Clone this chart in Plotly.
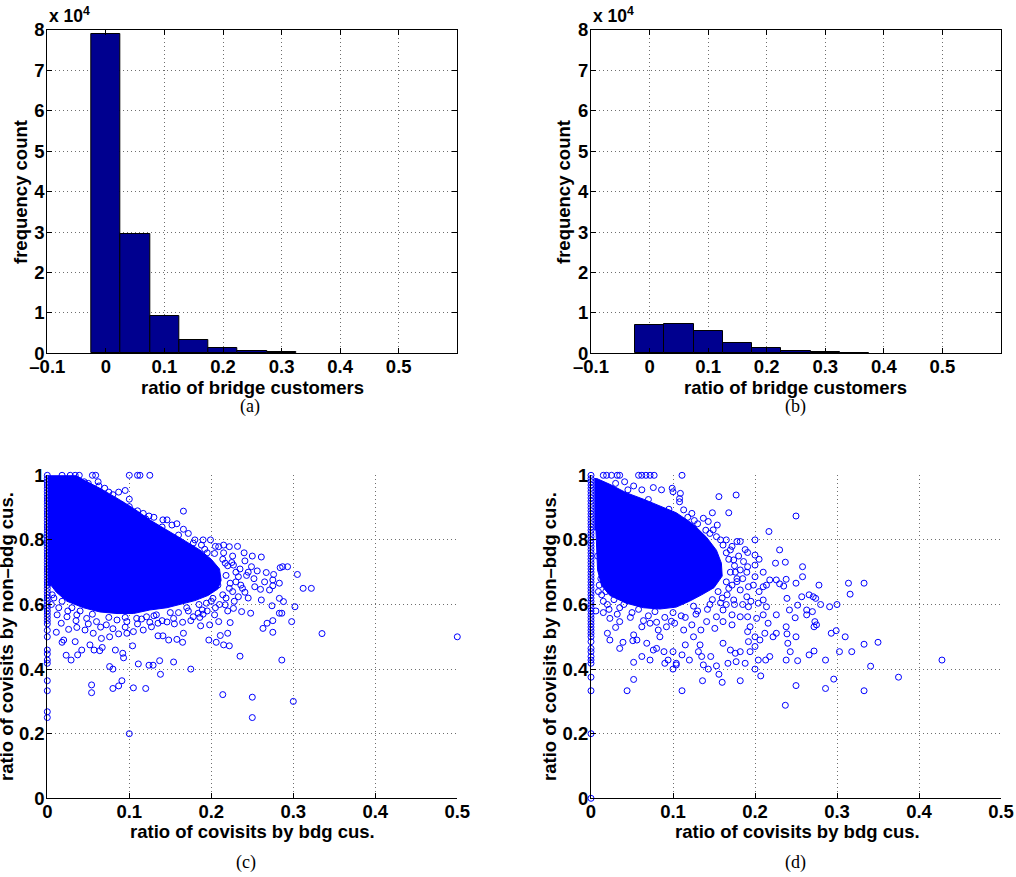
import plotly.graph_objects as go

W, H = 1016, 877

# histogram data (bin centres, counts)
bin_centers_a = [0, 0.05, 0.1, 0.15, 0.2, 0.25, 0.3]
counts_a = [79100, 29500, 9300, 3300, 1400, 580, 200]
bin_centers_b = [0, 0.05, 0.1, 0.15, 0.2, 0.25, 0.3, 0.35]
counts_b = [7000, 7200, 5600, 2550, 1250, 650, 300, 110]

hist_xticks = [-0.1, 0, 0.1, 0.2, 0.3, 0.4, 0.5]
hist_xlabels = ["\u20130.1", "0", "0.1", "0.2", "0.3", "0.4", "0.5"]
hist_yticks = [0, 10000, 20000, 30000, 40000, 50000, 60000, 70000, 80000]
hist_ylabels = ["0", "1", "2", "3", "4", "5", "6", "7", "8"]

sc_xticks = [0, 0.1, 0.2, 0.3, 0.4, 0.5]
sc_xlabels = ["0", "0.1", "0.2", "0.3", "0.4", "0.5"]
sc_yticks = [0, 0.2, 0.4, 0.6, 0.8, 1.0]
sc_ylabels = ["0", "0.2", "0.4", "0.6", "0.8", "1"]

# (c) saturated core of the point cloud (outline)
c_core_x = [0, 0.035, 0.044, 0.064, 0.085, 0.105, 0.125, 0.146, 0.166, 0.186,
            0.2, 0.21, 0.212, 0.208, 0.196, 0.18, 0.163, 0.146, 0.125, 0.105,
            0.085, 0.064, 0.044, 0.024, 0.011, 0.005, 0]
c_core_y = [1.0, 1.0, 0.986, 0.96, 0.929, 0.898, 0.862, 0.831, 0.8, 0.769,
            0.74, 0.71, 0.675, 0.648, 0.628, 0.612, 0.6, 0.59, 0.583, 0.572,
            0.572, 0.577, 0.59, 0.61, 0.638, 0.658, 0.658]
# points lying on x = 0
c_col_y = [1.0, 0.99, 0.98, 0.97, 0.96, 0.95, 0.94, 0.93, 0.92, 0.91, 0.9,
           0.89, 0.88, 0.87, 0.86, 0.85, 0.84, 0.83, 0.82, 0.81, 0.8, 0.79,
           0.78, 0.77, 0.76, 0.75, 0.74, 0.73, 0.72, 0.71, 0.7, 0.69, 0.68,
           0.67, 0.66, 0.65, 0.64, 0.63, 0.62, 0.61, 0.6, 0.59, 0.58, 0.57,
           0.56, 0.55, 0.54, 0.52, 0.5, 0.459, 0.447, 0.428, 0.418, 0.364,
           0.333, 0.268, 0.25]
c_points = [
    (0.5, 0.5), (0.335, 0.51), (0.3, 0.3), (0.25, 0.25), (0.25, 0.313),
    (0.214, 0.321), (0.286, 0.428), (0.235, 0.44), (0.1, 0.2), (0.105, 0.342),
    (0.12, 0.34), (0.08, 0.34), (0.087, 0.348), (0.091, 0.364), (0.054, 0.351),
    (0.054, 0.327), (0.138, 0.384), (0.175, 0.4), (0.154, 0.422), (0.137, 0.426),
    (0.129, 0.412), (0.124, 0.412), (0.111, 0.416), (0.076, 0.408), (0.08, 0.4),
    (0.093, 0.435), (0.092, 0.449), (0.104, 0.472), (0.083, 0.459), (0.064, 0.457),
    (0.067, 0.467), (0.057, 0.459), (0.052, 0.475), (0.042, 0.459), (0.037, 0.444),
    (0.029, 0.428), (0.023, 0.443), (0.034, 0.485), (0.018, 0.483), (0.02, 0.49),
    (0.011, 0.514), (0.197, 0.49), (0.206, 0.483), (0.215, 0.475), (0.222, 0.472),
    (0.211, 0.504), (0.22, 0.511), (0.165, 0.483), (0.158, 0.492), (0.148, 0.49),
    (0.141, 0.503), (0.135, 0.503), (0.166, 0.511), (0.198, 0.537), (0.187, 0.534),
    (0.209, 0.547), (0.223, 0.544), (0.248, 0.573), (0.237, 0.578), (0.263, 0.526),
    (0.268, 0.542), (0.275, 0.514), (0.275, 0.55), (0.283, 0.573), (0.286, 0.573),
    (0.298, 0.547), (0.302, 0.593), (0.274, 0.596), (0.261, 0.614), (0.283, 0.619),
    (0.288, 0.609), (0.312, 0.65), (0.322, 0.65), (0.305, 0.693), (0.293, 0.717),
    (0.287, 0.717), (0.284, 0.714), (0.276, 0.693), (0.275, 0.676), (0.283, 0.666),
    (0.275, 0.658), (0.271, 0.645), (0.26, 0.647), (0.261, 0.747), (0.25, 0.75),
    (0.241, 0.735), (0.249, 0.717), (0.256, 0.704), (0.267, 0.699), (0.253, 0.655),
    (0.241, 0.638), (0.233, 0.624), (0.222, 0.779), (0.215, 0.784), (0.209, 0.779),
    (0.199, 0.8), (0.166, 0.889), (0.152, 0.846), (0.166, 0.833), (0.146, 0.862),
    (0.141, 0.862), (0.124, 0.874), (0.117, 0.882), (0.11, 0.89), (0.1, 0.926),
    (0.1, 0.903), (0.095, 0.953), (0.087, 0.948), (0.075, 0.948), (0.063, 0.967),
    (0.062, 0.98), (0.059, 1.0), (0.055, 1.0), (0.1, 1.0), (0.11, 1.0),
    (0.113, 1.0), (0.125, 1.0), (0.039, 1.0), (0.034, 1.0), (0.045, 0.98),
    (0.05, 0.975), (0.184, 0.573), (0.178, 0.562), (0.186, 0.56), (0.189, 0.583),
    (0.204, 0.568), (0.194, 0.604), (0.202, 0.619), (0.217, 0.599), (0.227, 0.588),
    (0.223, 0.666), (0.233, 0.686), (0.227, 0.722), (0.217, 0.728), (0.204, 0.758),
    (0.192, 0.771), (0.188, 0.784), (0.176, 0.774), (0.154, 0.557), (0.146, 0.546),
    (0.135, 0.542), (0.127, 0.531), (0.117, 0.521), (0.105, 0.516), (0.097, 0.511),
    (0.087, 0.509), (0.076, 0.5), (0.066, 0.495), (0.056, 0.511), (0.046, 0.521),
    (0.036, 0.529), (0.026, 0.523), (0.017, 0.542), (0.012, 0.568), (0.024, 0.562),
    (0.036, 0.568), (0.048, 0.557), (0.06, 0.547), (0.072, 0.537), (0.085, 0.552),
    (0.097, 0.547), (0.109, 0.557), (0.121, 0.562), (0.133, 0.568), (0.23, 0.7),
    (0.236, 0.66), (0.243, 0.69), (0.226, 0.64), (0.218, 0.62), (0.21, 0.6),
    (0.195, 0.58), (0.172, 0.58), (0.16, 0.575), (0.208, 0.66), (0.214, 0.74),
    (0.226, 0.75), (0.235, 0.71), (0.18, 0.8), (0.172, 0.82), (0.158, 0.85),
    (0.13, 0.87), (0.08, 0.94), (0.07, 0.96), (0.028, 1.0), (0.018, 1.0),
    (0.218, 0.69), (0.222, 0.65), (0.214, 0.63), (0.2, 0.61), (0.185, 0.6),
    (0.17, 0.59), (0.15, 0.575), (0.13, 0.565), (0.115, 0.555), (0.095, 0.56),
    (0.075, 0.56), (0.055, 0.57), (0.04, 0.58), (0.03, 0.59), (0.018, 0.61),
    (0.008, 0.62), (0.005, 0.6), (0.205, 0.7), (0.22, 0.72), (0.195, 0.76),
    (0.178, 0.79), (0.16, 0.815), (0.14, 0.84), (0.12, 0.865), (0.09, 0.91),
    (0.215, 0.76), (0.225, 0.73), (0.23, 0.67), (0.238, 0.65), (0.245, 0.62),
    (0.228, 0.61), (0.22, 0.58), (0.205, 0.59), (0.19, 0.57), (0.175, 0.55),
    (0.165, 0.545), (0.155, 0.54), (0.14, 0.55), (0.125, 0.545), (0.11, 0.54),
    (0.095, 0.53), (0.08, 0.525), (0.065, 0.53), (0.05, 0.54), (0.035, 0.55),
    (0.025, 0.58), (0.014, 0.59), (0.006, 0.63), (0.245, 0.7), (0.252, 0.68),
    (0.265, 0.67), (0.24, 0.76), (0.232, 0.78), (0.205, 0.78), (0.19, 0.8),
]

# (d) saturated core of the point cloud (outline)
d_core_x = [0.004, 0.007, 0.023, 0.043, 0.064, 0.084, 0.104, 0.125, 0.141,
            0.153, 0.159, 0.16, 0.15, 0.135, 0.12, 0.104, 0.084, 0.064,
            0.043, 0.023, 0.013, 0.008, 0.006, 0.004]
d_core_y = [0.99, 0.99, 0.972, 0.946, 0.926, 0.905, 0.884, 0.848, 0.808,
            0.768, 0.728, 0.688, 0.652, 0.63, 0.61, 0.592, 0.586, 0.59,
            0.604, 0.628, 0.658, 0.707, 0.831, 0.831]
# points lying on x = 0
d_col_y = [1.0, 0.99, 0.98, 0.97, 0.96, 0.95, 0.94, 0.93, 0.92, 0.91, 0.9,
           0.89, 0.88, 0.87, 0.86, 0.85, 0.84, 0.83, 0.82, 0.81, 0.8, 0.79,
           0.78, 0.77, 0.76, 0.75, 0.74, 0.73, 0.72, 0.71, 0.7, 0.69, 0.68,
           0.67, 0.66, 0.65, 0.64, 0.63, 0.62, 0.61, 0.6, 0.59, 0.58, 0.57,
           0.56, 0.55, 0.54, 0.53, 0.52, 0.51, 0.5, 0.485, 0.464, 0.454,
           0.439, 0.428, 0.418, 0.375, 0.333, 0.2, 0.0]
d_points = [
    (0.428, 0.428), (0.375, 0.375), (0.35, 0.483), (0.341, 0.409), (0.333, 0.333),
    (0.333, 0.477), (0.333, 0.666), (0.314, 0.666), (0.316, 0.632), (0.318, 0.454),
    (0.31, 0.5), (0.303, 0.454), (0.299, 0.519), (0.293, 0.511), (0.3, 0.6),
    (0.291, 0.593), (0.28, 0.6), (0.296, 0.369), (0.286, 0.34), (0.286, 0.428),
    (0.278, 0.66), (0.274, 0.619), (0.271, 0.624), (0.266, 0.63), (0.275, 0.537),
    (0.273, 0.547), (0.272, 0.531), (0.272, 0.456), (0.266, 0.444), (0.27, 0.578),
    (0.263, 0.568), (0.263, 0.583), (0.257, 0.624), (0.258, 0.686), (0.258, 0.717),
    (0.252, 0.598), (0.249, 0.559), (0.25, 0.5), (0.252, 0.426), (0.25, 0.349),
    (0.25, 0.666), (0.25, 0.874), (0.237, 0.288), (0.238, 0.428), (0.243, 0.454),
    (0.24, 0.48), (0.239, 0.509), (0.238, 0.531), (0.242, 0.583), (0.239, 0.619),
    (0.238, 0.678), (0.237, 0.731), (0.225, 0.728), (0.23, 0.769), (0.217, 0.826),
    (0.235, 0.657), (0.23, 0.664), (0.226, 0.676), (0.218, 0.676), (0.214, 0.66),
    (0.21, 0.655), (0.226, 0.568), (0.226, 0.511), (0.222, 0.5), (0.218, 0.439),
    (0.213, 0.428), (0.207, 0.379), (0.204, 0.428), (0.2, 0.4), (0.2, 0.47),
    (0.2, 0.5), (0.2, 0.8), (0.2, 0.753), (0.2, 0.722), (0.2, 0.686),
    (0.204, 0.604), (0.21, 0.614), (0.214, 0.593), (0.21, 0.568), (0.202, 0.557),
    (0.216, 0.542), (0.212, 0.511), (0.206, 0.49), (0.191, 0.516), (0.182, 0.454),
    (0.182, 0.364), (0.188, 0.418), (0.194, 0.454), (0.192, 0.485), (0.194, 0.531),
    (0.191, 0.562), (0.192, 0.593), (0.19, 0.624), (0.192, 0.655), (0.191, 0.761),
    (0.191, 0.717), (0.182, 0.795), (0.178, 0.795), (0.177, 0.939), (0.168, 0.884),
    (0.156, 0.934), (0.148, 0.884), (0.154, 0.846), (0.143, 0.857), (0.161, 0.48),
    (0.16, 0.359), (0.156, 0.384), (0.153, 0.41), (0.167, 0.418), (0.17, 0.459),
    (0.176, 0.449), (0.177, 0.423), (0.146, 0.439), (0.143, 0.4), (0.137, 0.413),
    (0.136, 0.364), (0.135, 0.439), (0.131, 0.454), (0.133, 0.475), (0.125, 0.5),
    (0.12, 0.428), (0.115, 0.475), (0.111, 0.333), (0.111, 0.444), (0.104, 0.418),
    (0.1, 0.4), (0.1, 0.454), (0.104, 0.413), (0.094, 0.428), (0.09, 0.418),
    (0.089, 0.454), (0.084, 0.5), (0.08, 0.464), (0.076, 0.459), (0.072, 0.428),
    (0.062, 0.439), (0.068, 0.48), (0.056, 0.49), (0.052, 0.421), (0.052, 0.368),
    (0.044, 0.333), (0.035, 0.464), (0.039, 0.483), (0.051, 0.488), (0.023, 0.49),
    (0.02, 0.511), (0.03, 0.529), (0.035, 0.547), (0.015, 0.575), (0.013, 0.63),
    (0.023, 0.557), (0.052, 0.506), (0.062, 0.531), (0.072, 0.542), (0.082, 0.521),
    (0.092, 0.531), (0.102, 0.542), (0.113, 0.521), (0.123, 0.537), (0.134, 0.521),
    (0.141, 0.547), (0.151, 0.526), (0.161, 0.547), (0.172, 0.537), (0.182, 0.562),
    (0.172, 0.568), (0.161, 0.583), (0.153, 0.562), (0.174, 0.614), (0.182, 0.645),
    (0.178, 0.671), (0.182, 0.707), (0.186, 0.733), (0.174, 0.738), (0.17, 0.769),
    (0.161, 0.784), (0.153, 0.81), (0.149, 0.831), (0.137, 0.867), (0.123, 0.882),
    (0.113, 0.893), (0.108, 0.918), (0.1, 0.949), (0.099, 0.96), (0.109, 0.944),
    (0.108, 0.928), (0.086, 0.955), (0.076, 0.962), (0.111, 1.0), (0.077, 1.0),
    (0.072, 1.0), (0.067, 1.0), (0.062, 1.0), (0.058, 1.0), (0.035, 1.0),
    (0.032, 1.0), (0.025, 1.0), (0.019, 1.0), (0.015, 1.0), (0.041, 0.98),
    (0.052, 0.967), (0.062, 0.955), (0.17, 0.7), (0.168, 0.65), (0.16, 0.62),
    (0.145, 0.6), (0.13, 0.58), (0.11, 0.565), (0.09, 0.56), (0.07, 0.565),
    (0.05, 0.575), (0.035, 0.59), (0.02, 0.6), (0.012, 0.68), (0.175, 0.6),
    (0.185, 0.68), (0.165, 0.6), (0.155, 0.64), (0.18, 0.75), (0.165, 0.8),
    (0.168, 0.74), (0.175, 0.72), (0.165, 0.67), (0.148, 0.615), (0.125, 0.595),
    (0.1, 0.575), (0.078, 0.578), (0.058, 0.585), (0.04, 0.6), (0.028, 0.615),
    (0.018, 0.64), (0.01, 0.66), (0.008, 0.75), (0.145, 0.82), (0.13, 0.85),
    (0.118, 0.87), (0.095, 0.895), (0.07, 0.925), (0.045, 0.955), (0.03, 0.975),
    (0.165, 0.76), (0.172, 0.78), (0.158, 0.8), (0.14, 0.83), (0.126, 0.86),
    (0.176, 0.7), (0.178, 0.68), (0.172, 0.66), (0.166, 0.63), (0.158, 0.605),
    (0.142, 0.585), (0.128, 0.57), (0.115, 0.56), (0.098, 0.548), (0.08, 0.545),
    (0.064, 0.55), (0.048, 0.56), (0.032, 0.57), (0.022, 0.585), (0.015, 0.61),
    (0.009, 0.64), (0.006, 0.58), (0.185, 0.6), (0.195, 0.61), (0.19, 0.7),
    (0.198, 0.66), (0.205, 0.64), (0.21, 0.7), (0.188, 0.77), (0.205, 0.74),
]

NAVY = "#00008F"
BLUE = "#0000FF"
FONT = dict(family="Liberation Sans", size=18.5, color="black", weight="bold")


def px_x(v):
    return v / W


def px_y(v):
    return 1 - v / H


def axis(domain, anchor, mirror, standoff, **kw):
    base = dict(
        domain=domain, anchor=anchor, showline=True, linecolor="black",
        linewidth=1, mirror=mirror, ticks="inside", ticklen=5,
        tickcolor="black", showgrid=True, gridcolor="#6e6e6e",
        griddash="1px,3px", gridwidth=1, zeroline=False, tickfont=FONT,
        tickmode="array", automargin=False, ticklabelstandoff=standoff,
    )
    base.update(kw)
    return base


fig = go.Figure()

bar_style = dict(marker=dict(color=NAVY, line=dict(color="black", width=1)),
                 width=0.05, showlegend=False, hoverinfo="x+y")
fig.add_trace(go.Bar(x=bin_centers_a, y=counts_a, xaxis="x", yaxis="y", **bar_style))
fig.add_trace(go.Bar(x=bin_centers_b, y=counts_b, xaxis="x2", yaxis="y2", **bar_style))

mk = dict(symbol="circle-open", size=6, color=BLUE, line=dict(width=1, color=BLUE))
for xa, ya, cx, cy, col, pts in [
    ("x3", "y3", c_core_x, c_core_y, c_col_y, c_points),
    ("x4", "y4", d_core_x, d_core_y, d_col_y, d_points),
]:
    fig.add_trace(go.Scatter(x=cx, y=cy, xaxis=xa, yaxis=ya, mode="lines",
                             fill="toself", fillcolor=BLUE,
                             line=dict(color=BLUE, width=1), showlegend=False,
                             hoverinfo="skip"))
    fig.add_trace(go.Scatter(x=[0] * len(col), y=col, xaxis=xa, yaxis=ya,
                             mode="markers", marker=mk, cliponaxis=False,
                             showlegend=False))
    fig.add_trace(go.Scatter(x=[p[0] for p in pts], y=[p[1] for p in pts],
                             xaxis=xa, yaxis=ya, mode="markers", marker=mk,
                             cliponaxis=False, showlegend=False))

left_dom = [px_x(47.3), px_x(457.3)]
right_dom = [px_x(591), px_x(1001)]
top_dom = [px_y(353.3), px_y(30)]
bot_dom = [px_y(798.3), px_y(475.3)]

hx = dict(range=[-0.1, 0.6], tickvals=hist_xticks, ticktext=hist_xlabels)
hy = dict(range=[0, 80000], tickvals=hist_yticks, ticktext=hist_ylabels)
sx = dict(range=[0, 0.5], tickvals=sc_xticks, ticktext=sc_xlabels)
sy = dict(range=[0, 1], tickvals=sc_yticks, ticktext=sc_ylabels)

fig.update_layout(
    template="none",
    width=W, height=H, margin=dict(l=0, r=0, t=0, b=0, pad=0),
    paper_bgcolor="white", plot_bgcolor="white", bargap=0,
    font=FONT,
    xaxis=axis(left_dom, "y", "ticks", -4, **hx),
    yaxis=axis(top_dom, "x", "ticks", -2, **hy),
    xaxis2=axis(right_dom, "y2", "ticks", -4, **hx),
    yaxis2=axis(top_dom, "x2", "ticks", -2, **hy),
    xaxis3=axis(left_dom, "y3", False, -4, **sx),
    yaxis3=axis(bot_dom, "x3", False, -2, **sy),
    xaxis4=axis(right_dom, "y4", False, -4, **sx),
    yaxis4=axis(bot_dom, "x4", False, -2, **sy),
)

cap_font = dict(family="Liberation Serif", size=18, color="black", weight="normal")
exp_font = dict(FONT, size=17.5)
notes = [
    # text, x px, y px, angle, anchor, font
    ("x 10<sup>4</sup>", 47, 28, 0, "left", exp_font),
    ("x 10<sup>4</sup>", 591, 28, 0, "left", exp_font),
    ("frequency count", 20, 192, -90, "center", FONT),
    ("frequency count", 563, 192, -90, "center", FONT),
    ("ratio of bridge customers", 252, 387, 0, "center", FONT),
    ("ratio of bridge customers", 795, 387, 0, "center", FONT),
    ("ratio of covisits by non\u2013bdg cus.", 6, 637, -90, "center", FONT),
    ("ratio of covisits by non\u2013bdg cus.", 549, 637, -90, "center", FONT),
    ("ratio of covisits by bdg cus.", 252, 831, 0, "center", FONT),
    ("ratio of covisits by bdg cus.", 797, 831, 0, "center", FONT),
    ("(a)", 250, 406, 0, "center", cap_font),
    ("(b)", 795, 406, 0, "center", cap_font),
    ("(c)", 246, 862, 0, "center", cap_font),
    ("(d)", 795, 862, 0, "center", cap_font),
]
for text, x, y, ang, xanc, f in notes:
    fig.add_annotation(text=text, x=px_x(x), y=px_y(y), xref="paper",
                       yref="paper", showarrow=False, textangle=ang,
                       xanchor=xanc, yanchor="bottom" if xanc == "left" else "middle",
                       font=f)

# the page's default body margin would push the figure off the window
fig.write_html("out.html", config={"displayModeBar": False},
               post_script="document.body.style.margin = '0';")
